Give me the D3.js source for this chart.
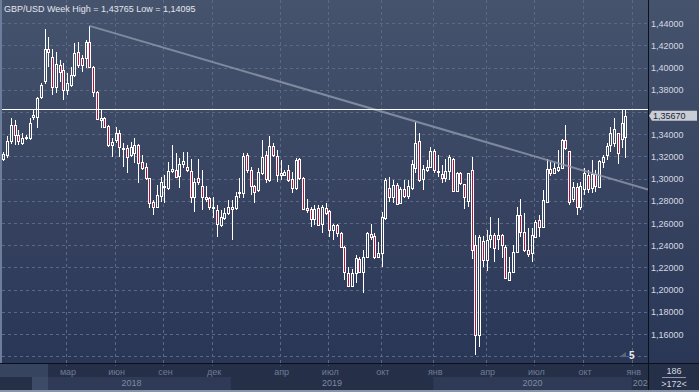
<!DOCTYPE html>
<html>
<head>
<meta charset="utf-8">
<script src="https://cdn.jsdelivr.net/npm/d3@7/dist/d3.min.js"></script>
<style>
  html, body { margin: 0; padding: 0; background: #26304a; }
  svg { display: block; font-family: "Liberation Sans", Arial, sans-serif; }
</style>
</head>
<body>
<script>
// weekly bars GBP/USD, Nov 2017 - Dec 2020 (year-end weeks split in two)
const opens = [
  1.3180,1.3215,1.3335,1.3485,1.3395,1.3320,1.3365,1.3365,1.3555,1.3560,
  1.3735,1.3880,1.4170,1.4095,1.3830,1.4025,1.3980,1.3800,1.3845,1.3935,
  1.4145,1.4085,1.4085,1.4235,1.4009,1.3784,1.3525,1.3544,1.3474,1.3303,
  1.3348,1.3408,1.3273,1.3273,1.3213,1.3228,1.3303,1.3153,1.3108,1.3003,
  1.2793,1.2747,1.2844,1.2934,1.2913,1.3084,1.3078,1.3027,1.3129,1.3105,
  1.3069,1.2832,1.3003,1.2934,1.2832,1.2823,1.2742,1.2718,1.2582,1.2642,
  1.2693,1.2747,1.2733,1.2868,1.2874,1.3213,1.3078,1.2934,1.2898,1.3054,
  1.3210,1.2988,1.3294,1.3203,1.3035,1.3033,1.3078,1.2994,1.2913,1.3174,
  1.3008,1.2733,1.2723,1.2633,1.2733,1.2591,1.2738,1.2708,1.2537,1.2582,
  1.2513,1.2387,1.2153,1.2033,1.2153,1.2273,1.2162,1.2297,1.2498,1.2483,
  1.2291,1.2333,1.2642,1.2913,1.2832,1.2943,1.2785,1.2910,1.2845,1.2913,
  1.3100,1.3342,1.2994,1.3078,1.3108,1.3252,1.3069,1.3042,1.3003,1.3069,
  1.3174,1.2892,1.3048,1.2952,1.2802,1.3078,1.2400,1.1590,1.2441,1.2267,
  1.2453,1.2492,1.2453,1.2492,1.2387,1.2087,1.2162,1.2342,1.2672,1.2522,
  1.2357,1.2327,1.2477,1.2627,1.2567,1.2792,1.3084,1.3054,1.3078,1.3093,
  1.3348,1.3252,1.2814,1.2928,1.2747,1.2904,1.3033,1.2913,1.3042,1.2922,
  1.3153,1.3213,1.3303,1.3318,1.3408,1.3354,1.3378
];
const highs = [
  1.3240,1.3380,1.3545,1.3530,1.3440,1.3410,1.3395,1.3545,1.3620,1.3740,
  1.3860,1.4346,1.4275,1.4165,1.4145,1.4070,1.4040,1.3950,1.4010,1.4220,
  1.4235,1.4115,1.4250,1.43765,1.4015,1.3790,1.3620,1.3560,1.3480,1.3363,
  1.3468,1.3438,1.3318,1.3303,1.3333,1.3363,1.3310,1.3213,1.3138,1.3010,
  1.2808,1.2943,1.3018,1.3033,1.3153,1.3303,1.3228,1.3183,1.3243,1.3243,
  1.3174,1.3003,1.3174,1.3078,1.2934,1.2838,1.2838,1.2763,1.2717,1.2733,
  1.2807,1.2807,1.2883,1.3003,1.3228,1.3228,1.3108,1.2943,1.3093,1.3348,
  1.3250,1.3384,1.3318,1.3258,1.3168,1.3078,1.3123,1.3063,1.3183,1.3183,
  1.3018,1.2813,1.2747,1.2763,1.2763,1.2763,1.2783,1.2717,1.2590,1.2590,
  1.2522,1.2390,1.2207,1.2183,1.2312,1.2297,1.2357,1.2522,1.2591,1.2513,
  1.2432,1.2702,1.3003,1.3018,1.2988,1.2958,1.2925,1.2985,1.2985,1.3168,
  1.3514,1.3414,1.3123,1.3168,1.3282,1.3264,1.3213,1.3123,1.3174,1.3213,
  1.3183,1.3063,1.3063,1.2955,1.3054,1.3198,1.2490,1.2490,1.2483,1.2540,
  1.2650,1.2507,1.2642,1.2500,1.2400,1.2297,1.2402,1.2747,1.2814,1.2687,
  1.2552,1.2552,1.2627,1.2672,1.2898,1.3174,1.3153,1.3138,1.3258,1.3354,
  1.3483,1.3252,1.2973,1.2964,1.2973,1.3093,1.3078,1.3168,1.3078,1.3168,
  1.3213,1.3318,1.3468,1.3544,1.3410,1.3619,1.3625
];
const lows = [
  1.3160,1.3185,1.3315,1.3305,1.3300,1.3300,1.3345,1.3345,1.3525,1.3455,
  1.3720,1.3850,1.4010,1.3755,1.3770,1.3870,1.3710,1.3755,1.3830,1.3920,
  1.3995,1.3965,1.3995,1.3995,1.3739,1.3529,1.3455,1.3454,1.3288,1.3198,
  1.3318,1.3198,1.3108,1.3048,1.3198,1.3138,1.2958,1.3078,1.2988,1.2733,
  1.2673,1.2732,1.2793,1.2778,1.2898,1.3048,1.3003,1.2913,1.3093,1.3063,
  1.2778,1.2702,1.2943,1.2717,1.2793,1.2717,1.2642,1.2477,1.2567,1.2627,
  1.2672,1.2447,1.2718,1.2823,1.2823,1.3048,1.2853,1.2778,1.2883,1.3033,
  1.2965,1.2973,1.3198,1.2973,1.2988,1.3025,1.2973,1.2868,1.2898,1.2988,
  1.2717,1.2688,1.2561,1.2582,1.2573,1.2507,1.2672,1.2477,1.2447,1.2477,
  1.2381,1.2087,1.2027,1.2027,1.2057,1.2147,1.1966,1.2282,1.2447,1.2273,
  1.2282,1.2201,1.2627,1.2793,1.2783,1.2763,1.2770,1.2825,1.2820,1.2898,
  1.3050,1.2973,1.2898,1.3063,1.3102,1.3054,1.3018,1.2958,1.2973,1.2988,
  1.2883,1.2883,1.2943,1.2723,1.2742,1.2276,1.14095,1.1480,1.2207,1.2165,
  1.2372,1.2252,1.2357,1.2282,1.2100,1.2075,1.2150,1.2327,1.2477,1.2342,
  1.2297,1.2252,1.2462,1.2477,1.2552,1.2777,1.3024,1.3042,1.3063,1.3084,
  1.3258,1.2763,1.2793,1.2672,1.2718,1.2853,1.2868,1.2868,1.2883,1.2913,
  1.3093,1.3168,1.3243,1.3288,1.3132,1.3273,1.3183
];
const closes = [
  1.3225,1.3335,1.3485,1.3395,1.3335,1.3370,1.3375,1.3500,1.3570,1.3725,
  1.3845,1.4165,1.4140,1.3830,1.4035,1.3965,1.3800,1.3860,1.3935,1.4130,
  1.4025,1.4025,1.4235,1.4005,1.3784,1.3538,1.3548,1.3469,1.3303,1.3333,
  1.3408,1.3288,1.3268,1.3198,1.3288,1.3303,1.3138,1.3093,1.3003,1.2778,
  1.2748,1.2853,1.2973,1.2922,1.3069,1.3069,1.3018,1.3129,1.3159,1.3075,
  1.2832,1.2973,1.2973,1.2832,1.2814,1.2748,1.2733,1.2591,1.2657,1.2693,
  1.2747,1.2723,1.2844,1.2883,1.3204,1.3078,1.2934,1.2883,1.3063,1.3198,
  1.3000,1.3294,1.3213,1.3033,1.3050,1.3063,1.2988,1.2913,1.3168,1.3003,
  1.2723,1.2717,1.2633,1.2723,1.2582,1.2747,1.2693,1.2537,1.2582,1.2513,
  1.2387,1.2162,1.2033,1.2153,1.2282,1.2162,1.2297,1.2507,1.2477,1.2291,
  1.2333,1.2651,1.2988,1.2838,1.2943,1.2772,1.2905,1.2845,1.2935,1.3132,
  1.3325,1.2988,1.3084,1.3108,1.3252,1.3078,1.3057,1.3003,1.3072,1.3198,
  1.2889,1.3054,1.2958,1.2832,1.3048,1.2357,1.1590,1.2470,1.2267,1.2450,
  1.2492,1.2372,1.2492,1.2402,1.2102,1.2162,1.2342,1.2672,1.2522,1.2357,
  1.2321,1.2492,1.2612,1.2567,1.2807,1.3084,1.3048,1.3093,1.3108,1.3348,
  1.3273,1.2793,1.2922,1.2741,1.2934,1.3048,1.2904,1.3042,1.2934,1.3162,
  1.3192,1.3294,1.3408,1.3444,1.3228,1.3498,1.3567
];

// time axis: first bar of each labelled month / year
const monthLabels = ["мар","июн","сен","дек","апр","июл","окт","янв","апр","июл","окт","янв"];
const monthBars   = [17, 30, 43, 56, 74, 87, 101, 115, 129, 142, 155, 168];
const yearLabels  = ["2018","2019","2020","2021"];
const yearBars    = [8, 61, 115, 168];

// price axis
const priceTicks = [1.14,1.16,1.18,1.20,1.22,1.24,1.26,1.28,1.30,1.32,1.34,1.36,1.38,1.40,1.42,1.44];
const lastPrice = 1.3567;
const levelLine = 1.3627;
const trendFrom = [23, 1.43765];
const trendTo   = [166, 1.2962];

const W = 699, H = 392;
const plotL = 2, plotR = 648, plotB = 363;

const bars = opens.map((o, i) => ({i, o, h: highs[i], l: lows[i], c: closes[i]}));

const x = d3.scaleLinear().domain([0, bars.length - 1]).range([3.3, 625.3]);
const y = d3.scaleLinear().domain([1.16, 1.44]).range([334, 23.3]);

const fmt = v => v.toFixed(5).replace(".", ",");

const svg = d3.select("body").append("svg")
    .attr("width", W).attr("height", H)
    .attr("viewBox", "0 0 " + W + " " + H);

const defs = svg.append("defs");
const grad = defs.append("linearGradient").attr("id", "bg")
    .attr("x1", 0).attr("y1", 0).attr("x2", 0).attr("y2", 1);
grad.append("stop").attr("offset", "0%").attr("stop-color", "#46536d");
grad.append("stop").attr("offset", "100%").attr("stop-color", "#2a3656");

defs.append("clipPath").attr("id", "plotClip")
    .append("rect").attr("x", plotL).attr("y", 0).attr("width", plotR - plotL).attr("height", plotB);
defs.append("clipPath").attr("id", "axisClip")
    .append("rect").attr("x", 0).attr("y", plotB).attr("width", plotR).attr("height", H - plotB);

// ----- backgrounds -----
svg.append("rect").attr("x", 0).attr("y", 0).attr("width", W).attr("height", plotB).attr("fill", "url(#bg)");
svg.append("rect").attr("x", 0).attr("y", 0).attr("width", 2).attr("height", plotB).attr("fill", "#6c7e9c");

// bottom time panel
svg.append("rect").attr("x", 0).attr("y", plotB).attr("width", W).attr("height", H - plotB).attr("fill", "#252f47");
const axisG = svg.append("g").attr("clip-path", "url(#axisClip)");
yearBars.forEach((b, k) => {
  if (k % 2 === 0) {
    const x0 = x(b) - 1, x1 = k + 1 < yearBars.length ? x(yearBars[k + 1]) - 1 : plotR;
    axisG.append("rect").attr("x", x0).attr("y", 377).attr("width", x1 - x0).attr("height", 13).attr("fill", "#2f3b56");
  }
});
svg.append("rect").attr("x", 0).attr("y", 364).attr("width", 48).attr("height", 13).attr("fill", "#36445f");
svg.append("rect").attr("x", 32).attr("y", 377).attr("width", 16).attr("height", 13).attr("fill", "#3d4b66");
svg.append("rect").attr("x", 0).attr("y", 390).attr("width", W).attr("height", 2).attr("fill", "#8894a8");

// ----- grid -----
const grid = svg.append("g").attr("clip-path", "url(#plotClip)");
grid.selectAll(".hgrid").data(priceTicks).enter().append("line")
    .attr("class", "hgrid")
    .attr("x1", plotL).attr("x2", plotR)
    .attr("y1", d => Math.round(y(d)) + 0.5).attr("y2", d => Math.round(y(d)) + 0.5)
    .attr("stroke", "#5b6984").attr("stroke-width", 1).attr("stroke-dasharray", "3,3");
grid.selectAll(".vgrid").data(monthBars).enter().append("line")
    .attr("class", "vgrid")
    .attr("x1", d => Math.round(x(d) - 1) + 0.5).attr("x2", d => Math.round(x(d) - 1) + 0.5)
    .attr("y1", 0).attr("y2", plotB)
    .attr("stroke", "#5b6984").attr("stroke-width", 1).attr("stroke-dasharray", "3,3");

// ticks in time panel
axisG.selectAll(".vtick").data(monthBars).enter().append("line")
    .attr("x1", d => Math.round(x(d) - 1) + 0.5).attr("x2", d => Math.round(x(d) - 1) + 0.5)
    .attr("y1", plotB).attr("y2", plotB + 3)
    .attr("stroke", "#4b5875").attr("stroke-dasharray", "1,1");

// ----- candles -----
const candles = svg.append("g").attr("clip-path", "url(#plotClip)");
bars.forEach(d => {
  const px = Math.round(x(d.i)) + 0.5;
  const top = Math.round(y(Math.max(d.o, d.c))) + 0.5;
  const bot = Math.round(y(Math.min(d.o, d.c))) + 0.5;
  const yh = Math.round(y(d.h)), yl = Math.round(y(d.l));
  if (yh < top) candles.append("line").attr("x1", px).attr("x2", px).attr("y1", yh).attr("y2", top)
      .attr("stroke", "#ffffff").attr("stroke-width", 1);
  if (yl > bot) candles.append("line").attr("x1", px).attr("x2", px).attr("y1", bot).attr("y2", yl)
      .attr("stroke", "#ffffff").attr("stroke-width", 1);
  candles.append("rect")
      .attr("x", px - 1).attr("y", top)
      .attr("width", 2).attr("height", Math.max(0, bot - top))
      .attr("fill", d.c < d.o ? "#b3123c" : "none")
      .attr("stroke", "#ffffff").attr("stroke-width", 1);
});

// ----- trend line and level line -----
const slope = (trendTo[1] - trendFrom[1]) / (trendTo[0] - trendFrom[0]);
const endBar = x.invert(plotR);
svg.append("line").attr("clip-path", "url(#plotClip)")
    .attr("x1", x(trendFrom[0])).attr("y1", y(trendFrom[1]))
    .attr("x2", x(endBar)).attr("y2", y(trendFrom[1] + slope * (endBar - trendFrom[0])))
    .attr("stroke", "#8f98ab").attr("stroke-width", 2).attr("stroke-opacity", 0.8);

svg.append("line")
    .attr("x1", plotL).attr("x2", plotR)
    .attr("y1", Math.round(y(levelLine)) + 0.5).attr("y2", Math.round(y(levelLine)) + 0.5)
    .attr("stroke", "#ffffff").attr("stroke-width", 1);

// ----- price axis -----
const axisLabels = svg.append("g");
priceTicks.filter(v => v > 1.15 && Math.abs(v - 1.36) > 1e-6).forEach(v => {
  axisLabels.append("text")
      .attr("x", 651).attr("y", y(v) + 3.5)
      .attr("font-size", 9).attr("fill", "#d4d9e2")
      .text(fmt(v));
});

// current price tag
const yp = y(lastPrice);
svg.append("path")
    .attr("d", `M649,${yp} L652,${yp - 5} L697,${yp - 5} L697,${yp + 5} L652,${yp + 5} Z`)
    .attr("fill", "#c9cdd5");
svg.append("text").attr("x", 653).attr("y", yp + 3.5)
    .attr("font-size", 9).attr("fill", "#1c2333").text(fmt(lastPrice));

// frame lines
svg.append("line").attr("x1", plotR + 0.5).attr("x2", plotR + 0.5).attr("y1", 0).attr("y2", 390)
    .attr("stroke", "#0c1018").attr("stroke-width", 1);
svg.append("line").attr("x1", 0).attr("x2", W).attr("y1", plotB + 0.5).attr("y2", plotB + 0.5)
    .attr("stroke", "#0c1018").attr("stroke-width", 1);

// ----- time labels -----
axisG.selectAll(".mlab").data(monthBars).enter().append("text")
    .attr("x", (d, k) => x(d) + 1).attr("y", 375)
    .attr("text-anchor", "middle").attr("font-size", 9).attr("fill", "#6e7c96")
    .text((d, k) => monthLabels[k]);
axisG.selectAll(".ylab").data(yearBars).enter().append("text")
    .attr("x", (d, k) => k + 1 < yearBars.length ? (x(d) + x(yearBars[k + 1])) / 2 - 1 : x(d))
    .attr("y", 386)
    .attr("text-anchor", (d, k) => k + 1 < yearBars.length ? "middle" : "start")
    .attr("font-size", 9).attr("fill", "#7d8aa2")
    .text((d, k) => yearLabels[k]);

// ----- title and corner info -----
svg.append("text").attr("x", 4).attr("y", 12)
    .attr("font-size", 9).attr("fill", "#e2e6ee")
    .text("GBP/USD Week High = " + fmt(d3.max(highs)) + " Low = " + fmt(d3.min(lows)));

svg.append("path").attr("d", "M619,357 L626,352 L626,357 Z").attr("fill", "#5d6578");
svg.append("text").attr("x", 629).attr("y", 359)
    .attr("font-size", 10).attr("font-weight", "bold").attr("fill", "#e8ecf2").text("5");

svg.append("text").attr("x", 674).attr("y", 374).attr("text-anchor", "middle")
    .attr("font-size", 9).attr("fill", "#d4d9e2").text("186");
svg.append("line").attr("x1", 662).attr("x2", 686).attr("y1", 377.5).attr("y2", 377.5)
    .attr("stroke", "#8d97aa");
svg.append("text").attr("x", 674).attr("y", 387).attr("text-anchor", "middle")
    .attr("font-size", 9).attr("fill", "#d4d9e2").text(">172<");
</script>
</body>
</html>
